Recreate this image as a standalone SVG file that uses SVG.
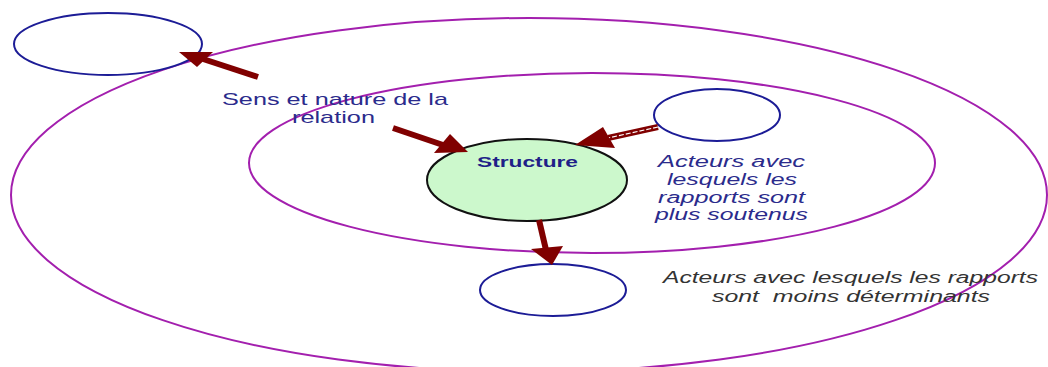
<svg xmlns="http://www.w3.org/2000/svg" width="1048" height="367" viewBox="0 0 1048 367">
<style>
.ring{fill:none;stroke:#a31fae;stroke-width:2}
.actor{fill:#ffffff;stroke:#1c1c96;stroke-width:2}
.core{fill:#ccf8cc;stroke:#111111;stroke-width:2}
.lbl{font-family:"Liberation Sans",Arial,sans-serif;font-size:17px;fill:#2b2b8c}
.it{font-family:"Liberation Sans",Arial,sans-serif;font-size:16px;font-style:italic;fill:#2b2b8c}
.it2{font-family:"Liberation Sans",Arial,sans-serif;font-size:16px;font-style:italic;fill:#333333}
.bold{font-family:"Liberation Sans",Arial,sans-serif;font-size:14px;font-weight:bold;fill:#1f1f88}
.shaft{stroke:#800000;stroke-width:6;fill:none}
.head{fill:#800000}
</style>
<rect width="1048" height="367" fill="#ffffff"/>
<g id="rings">
<ellipse class="ring" cx="529" cy="195" rx="518" ry="177"/>
<ellipse class="ring" cx="592" cy="163" rx="343" ry="90"/>
</g>
<g id="actor-top-left"><ellipse class="actor" cx="108" cy="44" rx="94" ry="31"/></g>
<g id="actor-inner"><ellipse class="actor" cx="717" cy="115" rx="63" ry="26"/></g>
<g id="actor-bottom"><ellipse class="actor" cx="553" cy="290" rx="73" ry="26"/></g>
<g id="structure">
<ellipse class="core" cx="527" cy="180" rx="100" ry="41"/>
<text class="bold" x="477" y="167" textLength="101" lengthAdjust="spacingAndGlyphs">Structure</text>
</g>
<g id="connectors">
<line class="shaft" x1="258" y1="77" x2="203" y2="59"/>
<polygon class="head" points="179,52 213,52 197,67"/>
<line class="shaft" x1="393" y1="128" x2="443" y2="145"/>
<polygon class="head" points="450,134 468,152 434,153"/>
<line class="shaft" x1="658" y1="127" x2="608" y2="138"/>
<line x1="658" y1="127" x2="608" y2="138" stroke="#ffffff" stroke-width="1.2" stroke-dasharray="5 2"/>
<polygon class="head" points="575,145 603,127 615,148"/>
<line class="shaft" x1="539" y1="220" x2="546" y2="250" stroke-width="7"/>
<polygon class="head" points="531,249 563,246 552,265"/>
</g>
<g id="labels">
<text class="lbl" x="222" y="105" textLength="226" lengthAdjust="spacingAndGlyphs">Sens et nature de la</text>
<text class="lbl" x="292" y="123" textLength="83" lengthAdjust="spacingAndGlyphs">relation</text>
<text class="it" x="658" y="167" textLength="147" lengthAdjust="spacingAndGlyphs">Acteurs avec</text>
<text class="it" x="667" y="185" textLength="130" lengthAdjust="spacingAndGlyphs">lesquels les</text>
<text class="it" x="658" y="203" textLength="147" lengthAdjust="spacingAndGlyphs">rapports sont</text>
<text class="it" x="655" y="220" textLength="153" lengthAdjust="spacingAndGlyphs">plus soutenus</text>
<text class="it2" x="663" y="283" textLength="375" lengthAdjust="spacingAndGlyphs">Acteurs avec lesquels les rapports</text>
<text class="it2" x="712" y="302" textLength="278" lengthAdjust="spacingAndGlyphs" xml:space="preserve">sont  moins déterminants</text>
</g>
</svg>
